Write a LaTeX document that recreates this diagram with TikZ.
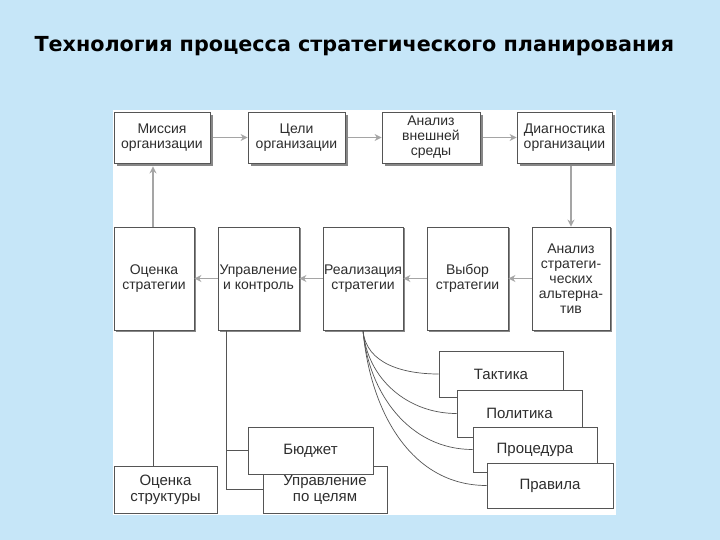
\documentclass[tikz,border=0pt]{standalone}
\usepackage{fontspec}
\setmainfont{Liberation Sans}
\newfontfamily\titlefont{DejaVu Sans}
\usetikzlibrary{arrows.meta,shadows}

\definecolor{bgblue}{RGB}{198,230,248}
\definecolor{edge}{RGB}{85,85,85}
\definecolor{txt}{RGB}{45,45,45}
\definecolor{arrowgray}{RGB}{165,165,165}
\definecolor{shade}{RGB}{135,135,135}

\tikzset{
	box/.style={draw=edge, line width=0.8pt, fill=white, align=center, text=txt,
		font=\fontsize{14}{15}\selectfont, inner sep=0pt},
	topbox/.style={box, minimum height=51pt,
		drop shadow={shadow xshift=3pt, shadow yshift=-3pt, fill=shade, opacity=1}},
	midbox/.style={box, minimum height=103pt,
		drop shadow={shadow xshift=1.5pt, shadow yshift=-1.5pt, fill=shade, opacity=1}},
	lowbox/.style={box, minimum height=46pt, font=\fontsize{15}{16}\selectfont},
	flow/.style={draw=arrowgray, line width=1.2pt, -{Stealth[length=7pt,width=7pt]}},
	link/.style={draw=edge, line width=0.7pt},
}

\begin{document}
\begin{tikzpicture}[x=1pt,y=-1pt]
	\useasboundingbox[fill=bgblue] (0,0) rectangle (720,540);
	\node[anchor=west, text=black, font=\titlefont\bfseries\fontsize{20.7}{24}\selectfont] (title) at (31,46) {Технология процесса стратегического планирования};
	\fill[white] (113,110) rectangle (616,515);
	%top row
	\node[topbox, minimum width=96pt] (mission) at (162,137.5) {Миссия\\организации};
	\node[topbox, minimum width=97pt] (goals) at (296.5,137.5) {Цели\\организации};
	\node[topbox, minimum width=98pt] (environ) at (431,137.5) {Анализ\\внешней\\среды};
	\node[topbox, minimum width=95pt] (diagnose) at (564.5,137.5) {Диагностика\\организации};
	%middle row
	\node[midbox, minimum width=80pt] (evalstrat) at (154,278.5) {Оценка\\стратегии};
	\node[midbox, minimum width=81pt] (control) at (258.5,278.5) {Управление\\и контроль};
	\node[midbox, minimum width=80pt] (realize) at (363,278.5) {Реализация\\стратегии};
	\node[midbox, minimum width=81pt] (choice) at (467.5,278.5) {Выбор\\стратегии};
	\node[midbox, minimum width=78pt] (altern) at (571,278.5) {Анализ\\стратеги-\\ческих\\альтерна-\\тив};
	%bottom left
	\node[lowbox, minimum width=103pt, minimum height=47pt] (evalstruct) at (165.5,489.5) {Оценка\\структуры};
	\node[lowbox, minimum width=124pt, minimum height=47pt] (bygoals) at (325,489.5) {Управление\\по целям};
	\node[lowbox, minimum width=125pt, minimum height=47pt] (budget) at (310.5,450.5) {Бюджет};
	%bottom right
	\node[lowbox, minimum width=124pt] (tactics) at (501,374) {Тактика};
	\node[lowbox, minimum width=125pt, minimum height=47pt] (policy) at (519.5,413.5) {Политика};
	\node[lowbox, minimum width=124pt, minimum height=45pt] (procedure) at (535,449.5) {Процедура};
	\node[lowbox, minimum width=126pt, minimum height=45pt] (rules) at (550,485.5) {Правила};
	%arrows
	\draw[flow, shorten <=3pt] (mission) -- (goals);
	\draw[flow, shorten <=3pt] (goals) -- (environ);
	\draw[flow, shorten <=3pt] (environ) -- (diagnose);
	\draw[flow, shorten <=3pt] (altern.north |- diagnose.south) -- (altern.north);
	\draw[flow] (altern) -- (choice);
	\draw[flow] (choice) -- (realize);
	\draw[flow] (realize) -- (control);
	\draw[flow] (control) -- (evalstrat);
	\draw[flow, shorten >=3pt] ([xshift=-1pt]evalstrat.north) -- ([xshift=-1pt]evalstrat.north |- mission.south);
	%lines down
	\coordinate (ctrldown) at ([xshift=9pt]control.south west);
	\draw[link] ([xshift=-1pt]evalstrat.south) -- ([xshift=-1pt]evalstrat.south |- evalstruct.north);
	\draw[link] (ctrldown) |- (bygoals.west);
	\draw[link] (ctrldown |- budget.west) -- (budget.west);
	\foreach \target in {tactics,policy,procedure,rules}
		\draw[link] (realize.south) to[out=-85,in=180] (\target.west);
\end{tikzpicture}
\end{document}
